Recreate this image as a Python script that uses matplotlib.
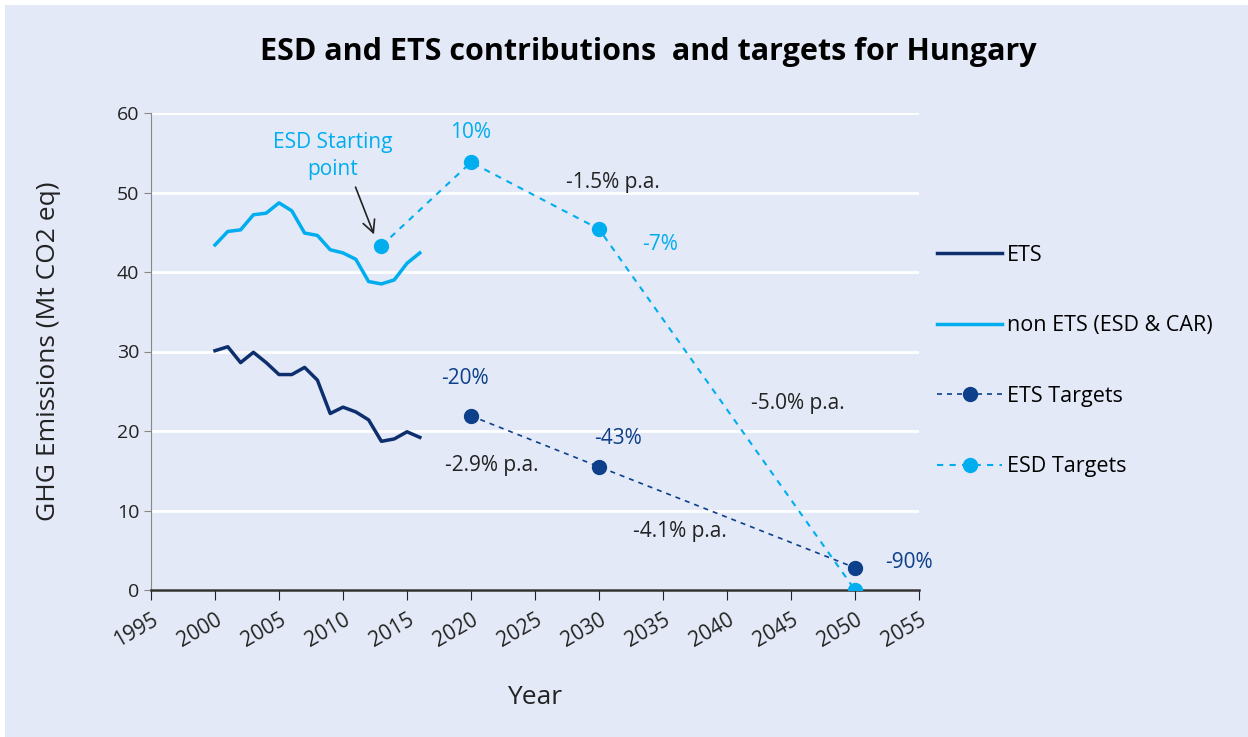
import matplotlib
matplotlib.use("Agg")
import matplotlib.pyplot as plt
from matplotlib.patches import Rectangle

plt.rcParams['font.family'] = ['Open Sans', 'DejaVu Sans']

# Historic emissions (Mt CO2 eq)
years = list(range(2000, 2017))
ets = [30.1, 30.6, 28.6, 29.9, 28.6, 27.1, 27.1, 28.0, 26.4, 22.2, 23.0, 22.4, 21.4, 18.7, 19.0, 19.9, 19.2]
non_ets = [43.4, 45.1, 45.3, 47.2, 47.4, 48.7, 47.7, 44.9, 44.6, 42.8, 42.4, 41.6, 38.8, 38.5, 39.0, 41.1, 42.4]

# Targets
ets_target_years = [2020, 2030, 2050]
ets_targets = [21.9, 15.5, 2.8]
esd_target_years = [2013, 2020, 2030, 2050]
esd_targets = [43.3, 53.8, 45.4, 0.0]

dark = "#0E2F6E"
dark_pt = "#0D3F8A"
light = "#00AEEF"
bg = "#E3E9F7"
txt = "#222222"

fig = plt.figure(figsize=(12.48, 7.37), dpi=100, facecolor="white")
fig.patches.append(Rectangle((5/1248, 0), 1, 1 - 5/737, transform=fig.transFigure,
                             facecolor=bg, edgecolor="none", zorder=-10))
ax = fig.add_axes([151/1248, 1 - 590/737, 768/1248, 477/737])
ax.set_facecolor(bg)

ax.plot(years, ets, color=dark, linewidth=2.5, label="ETS")
ax.plot(years, non_ets, color=light, linewidth=2.5, label="non ETS (ESD & CAR)")
ax.plot(ets_target_years, ets_targets, color=dark_pt, linestyle=(0, (3, 3)), linewidth=1.2,
        marker="o", markersize=10, label="ETS Targets", zorder=4)
ax.plot(esd_target_years, esd_targets, color=light, linestyle=(0, (3, 3)), linewidth=1.5,
        marker="o", markersize=10, label="ESD Targets", zorder=4)

ax.set_xlim(1995, 2055)
ax.set_ylim(0, 60)
ax.set_xticks(range(1995, 2056, 5))
ax.set_yticks(range(0, 61, 10))
ax.tick_params(axis="x", labelsize=15, rotation=30, length=7, color="#222222", labelcolor=txt, pad=7)
ax.tick_params(axis="y", labelsize=14, length=5, color="#888888", labelcolor=txt)
for lbl in ax.get_xticklabels():
    lbl.set_ha("right")
    lbl.set_rotation_mode("anchor")
ax.grid(axis="y", color="white", linewidth=2)
ax.set_axisbelow(True)
for s in ["top", "right"]:
    ax.spines[s].set_visible(False)
ax.spines["left"].set_color("#888888")
ax.spines["bottom"].set_color("#333333")
ax.spines["bottom"].set_linewidth(1.8)

ax.set_xlabel("Year", fontsize=19, color=txt, labelpad=24)
ax.set_ylabel("GHG Emissions (Mt CO2 eq)", fontsize=19, color=txt, labelpad=40)
fig.text(648/1248, 1 - 52/737, "ESD and ETS contributions  and targets for Hungary",
         fontsize=22, fontweight="bold", ha="center", va="center")

# Annotations
fs = 15
ax.text(2009.2, 54.6, "ESD Starting\npoint", color=light, fontsize=fs, ha="center", va="center",
        linespacing=1.4)
ax.annotate("", xy=(2012.5, 44.4), xytext=(2010.9, 51.0),
            arrowprops=dict(arrowstyle="->", color=txt, lw=1.2, mutation_scale=22))
ax.text(2020, 57.5, "10%", color=light, fontsize=fs, ha="center", va="center")
ax.text(2031.1, 51.3, "-1.5% p.a.", color=txt, fontsize=fs, ha="center", va="center")
ax.text(2034.8, 43.5, "-7%", color=light, fontsize=fs, ha="center", va="center")
ax.text(2019.5, 26.6, "-20%", color=dark_pt, fontsize=fs, ha="center", va="center")
ax.text(2031.5, 19.0, "-43%", color=dark_pt, fontsize=fs, ha="center", va="center")
ax.text(2021.6, 15.6, "-2.9% p.a.", color=txt, fontsize=fs, ha="center", va="center")
ax.text(2036.3, 7.3, "-4.1% p.a.", color=txt, fontsize=fs, ha="center", va="center")
ax.text(2045.5, 23.4, "-5.0% p.a.", color=txt, fontsize=fs, ha="center", va="center")
ax.text(2054.2, 3.5, "-90%", color=dark_pt, fontsize=fs, ha="center", va="center")

fig.legend(loc="center left", bbox_to_anchor=(918/1248, 1 - 361/737), frameon=False,
           fontsize=15.5, handlelength=3.0, labelspacing=2.3, handletextpad=0.25)

fig.savefig("out.png", dpi=100, facecolor=fig.get_facecolor())
